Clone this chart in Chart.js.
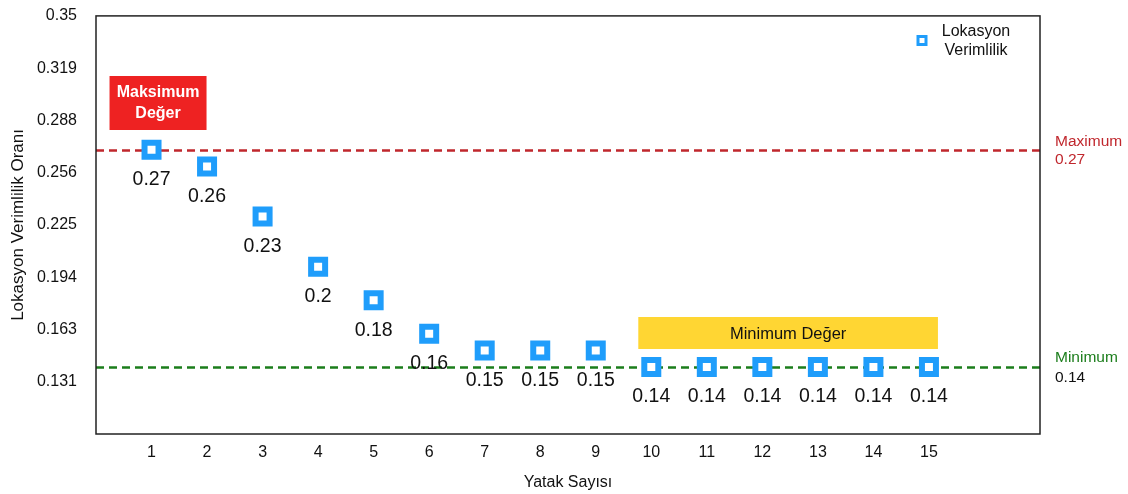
<!DOCTYPE html>
<html>
<head>
<meta charset="utf-8">
<script src="https://cdn.jsdelivr.net/npm/chart.js@4/dist/chart.umd.min.js"></script>
<style>
  html, body { margin: 0; padding: 0; background: #fff; }
  #wrap { width: 1128px; height: 494px; position: relative; }
</style>
</head>
<body>
<div id="wrap"><canvas id="c"></canvas></div>
<script>
// Bed count vs. location efficiency
const bedCounts = [1, 2, 3, 4, 5, 6, 7, 8, 9, 10, 11, 12, 13, 14, 15];
const efficiency = [0.27, 0.26, 0.23, 0.2, 0.18, 0.16, 0.15, 0.15, 0.15, 0.14, 0.14, 0.14, 0.14, 0.14, 0.14];
const yTickValues = [0.1, 0.13125, 0.1625, 0.19375, 0.225, 0.25625, 0.2875, 0.31875, 0.35];
const yTickLabels = ['', '0.131', '0.163', '0.194', '0.225', '0.256', '0.288', '0.319', '0.35'];
const maxValue = 0.27;
const minValue = 0.14;
const maxBedRange = [1, 1];
const minBedRange = [10, 15];

const FONT = '"Liberation Sans", Arial, Helvetica, sans-serif';
const BLUE = '#1f9dfb';

const overlay = {
  id: 'overlay',
  beforeDatasetsDraw(chart) {
    const { ctx, chartArea: a, scales: { x, y } } = chart;
    ctx.save();
    // reference lines
    ctx.lineWidth = 2.5;
    ctx.setLineDash([8, 5]);
    ctx.strokeStyle = '#c0272d';
    const yMax = Math.round(y.getPixelForValue(maxValue)) + 0.5;
    ctx.beginPath(); ctx.moveTo(a.left, yMax); ctx.lineTo(a.right, yMax); ctx.stroke();
    ctx.strokeStyle = '#1b7d1b';
    const yMin = Math.round(y.getPixelForValue(minValue)) + 0.5;
    ctx.beginPath(); ctx.moveTo(a.left, yMin); ctx.lineTo(a.right, yMin); ctx.stroke();
    ctx.setLineDash([]);

    // highlight boxes
    const bx1 = x.getPixelForValue(maxBedRange[0]);
    ctx.fillStyle = '#ee2222';
    ctx.fillRect(bx1 - 42, 76, 97, 54);
    ctx.fillStyle = '#fff';
    ctx.font = 'bold 16px ' + FONT;
    ctx.textAlign = 'center';
    ctx.textBaseline = 'middle';
    ctx.fillText('Maksimum', bx1 + 6.5, 93);
    ctx.fillText('Değer', bx1 + 6.5, 114);

    const mx1 = x.getPixelForValue(minBedRange[0]) - 13;
    const mx2 = x.getPixelForValue(minBedRange[1]) + 9;
    ctx.fillStyle = '#ffd633';
    ctx.fillRect(mx1, 317, mx2 - mx1, 32);
    ctx.fillStyle = '#111';
    ctx.font = '16.5px ' + FONT;
    ctx.fillText('Minimum Değer', (mx1 + mx2) / 2, 334);
    ctx.restore();
  },
  afterDatasetsDraw(chart) {
    const { ctx, chartArea: a, scales: { x, y } } = chart;
    ctx.save();
    // value labels under each marker
    ctx.fillStyle = '#111';
    ctx.font = '19.5px ' + FONT;
    ctx.textAlign = 'center';
    ctx.textBaseline = 'middle';
    efficiency.forEach((v, i) => {
      ctx.fillText(String(v), x.getPixelForValue(bedCounts[i]), y.getPixelForValue(v) + 30);
    });

    // plot frame
    ctx.strokeStyle = '#222';
    ctx.lineWidth = 1.5;
    ctx.strokeRect(a.left, a.top, a.right - a.left, a.bottom - a.top);

    // side annotations
    ctx.textAlign = 'left';
    ctx.font = '15.5px ' + FONT;
    const yMax = y.getPixelForValue(maxValue);
    const yMin = y.getPixelForValue(minValue);
    ctx.fillStyle = '#c0272d';
    ctx.fillText('Maximum', a.right + 15, yMax - 8);
    ctx.fillText(String(maxValue), a.right + 15, yMax + 10);
    ctx.fillStyle = '#1b7d1b';
    ctx.fillText('Minimum', a.right + 15, yMin - 9);
    ctx.fillStyle = '#111';
    ctx.fillText(String(minValue), a.right + 15, yMin + 11);

    // legend
    ctx.strokeStyle = BLUE;
    ctx.lineWidth = 3;
    ctx.strokeRect(918, 36.5, 8, 8);
    ctx.fillStyle = '#111';
    ctx.textAlign = 'center';
    ctx.font = '16px ' + FONT;
    ctx.fillText('Lokasyon', 976, 32);
    ctx.fillText('Verimlilik', 976, 51);
    ctx.restore();
  }
};

new Chart(document.getElementById('c'), {
  type: 'scatter',
  data: {
    datasets: [{
      label: 'Lokasyon Verimlilik',
      data: bedCounts.map((b, i) => ({ x: b, y: efficiency[i] })),
      pointStyle: 'rect',
      pointRadius: 9.9,
      pointHoverRadius: 9.9,
      pointBorderWidth: 6,
      pointHoverBorderWidth: 6,
      pointBackgroundColor: '#fff',
      pointBorderColor: BLUE,
      borderColor: BLUE,
      showLine: false
    }]
  },
  options: {
    responsive: true,
    maintainAspectRatio: false,
    animation: false,
    events: [],
    layout: { padding: { left: 0, right: 88, top: 14, bottom: 0 } },
    plugins: { legend: { display: false }, tooltip: { enabled: false } },
    scales: {
      x: {
        type: 'linear',
        min: 0,
        max: 17,
        afterFit(s) { s.height = 60; s.paddingLeft = 0; s.paddingRight = 0; },
        afterBuildTicks(s) { s.ticks = bedCounts.map(v => ({ value: v })); },
        ticks: { callback: v => String(v), color: '#111', font: { family: FONT, size: 16 }, padding: 9, maxRotation: 0, autoSkip: false },
        grid: { display: false, drawTicks: false },
        border: { display: false },
        title: { display: true, text: 'Yatak Sayısı', color: '#111', font: { family: FONT, size: 16 }, padding: { top: 0, bottom: 2 } }
      },
      y: {
        type: 'linear',
        min: 0.1,
        max: 0.35,
        afterFit(s) { s.width = 96; s.paddingTop = 0; s.paddingBottom = 0; },
        afterBuildTicks(s) { s.ticks = yTickValues.map(v => ({ value: v })); },
        ticks: {
          callback: (v, i) => yTickLabels[i],
          color: '#111', font: { family: FONT, size: 16 }, padding: 19, autoSkip: false
        },
        grid: { display: false, drawTicks: false },
        border: { display: false },
        title: { display: true, text: 'Lokasyon Verimlilik Oranı', color: '#111', font: { family: FONT, size: 17 }, padding: { top: 8, bottom: 0 } }
      }
    }
  },
  plugins: [overlay]
});
</script>
</body>
</html>
